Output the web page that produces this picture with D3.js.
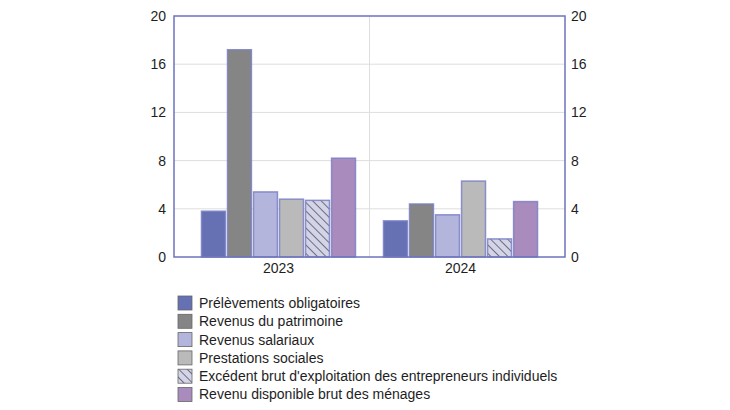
<!DOCTYPE html>
<html>
<style>
    body { margin: 0; background: #fff; }
    svg { font-family: "Liberation Sans", Arial, sans-serif; }
    .tick text { font-size: 14px; fill: #1e1e1e; }
    .legend text { font-size: 14px; fill: #1e1e1e; }
</style>
<script src="https://d3js.org/d3.v7.min.js"></script>
<body>
<svg width="730" height="410"></svg>
<script>
    const years = ["2023", "2024"];
    const series = ["Prélèvements obligatoires", "Revenus du patrimoine", "Revenus salariaux",
        "Prestations sociales", "Excédent brut d'exploitation des entrepreneurs individuels",
        "Revenu disponible brut des ménages"];
    const values2023 = [3.8, 17.2, 5.4, 4.8, 4.7, 8.2];
    const values2024 = [3.0, 4.4, 3.5, 6.3, 1.5, 4.6];
    const yTicks = [0, 4, 8, 12, 16, 20];
    const colors = ["#6571b3", "#858585", "#b3b5dc", "#bababa", "url(#hatch)", "#aa8bbe"];

    const valuesByYear = {"2023": values2023, "2024": values2024};

    const svg = d3.select("svg");
    const plotLeft = 174, plotRight = 565, plotTop = 16, plotBottom = 257;

    // hatch pattern for the EBE series
    const defs = svg.append("defs");
    const pat = defs.append("pattern")
        .attr("id", "hatch")
        .attr("patternUnits", "userSpaceOnUse")
        .attr("width", 6).attr("height", 6)
        .attr("patternTransform", "rotate(-45)");
    pat.append("rect").attr("width", 6).attr("height", 6).attr("fill", "#d3d4ea");
    pat.append("line").attr("x1", 0).attr("y1", 0).attr("x2", 0).attr("y2", 6)
        .attr("stroke", "#555").attr("stroke-width", 1.6);

    const x0 = d3.scaleBand().domain(years).range([plotLeft, plotRight]).paddingOuter(0.074);
    const x1 = d3.scaleBand().domain(series).range([14, x0.bandwidth() - 14]).paddingInner(0.08);
    const y = d3.scaleLinear().domain([0, 20]).range([plotBottom, plotTop]);

    // grid
    svg.append("g").selectAll("line")
        .data(yTicks.slice(1, -1))
        .join("line")
        .attr("x1", plotLeft).attr("x2", plotRight)
        .attr("y1", d => y(d)).attr("y2", d => y(d))
        .attr("stroke", "#dedede");
    svg.append("line")
        .attr("x1", x0("2024")).attr("x2", x0("2024"))
        .attr("y1", plotTop).attr("y2", plotBottom)
        .attr("stroke", "#dedede");

    // bars
    const groups = svg.append("g").selectAll("g")
        .data(years)
        .join("g")
        .attr("transform", d => `translate(${x0(d)},0)`);
    groups.selectAll("rect")
        .data(yr => valuesByYear[yr].map((v, i) => ({name: series[i], value: v, i: i})))
        .join("rect")
        .attr("x", d => x1(d.name))
        .attr("width", x1.bandwidth())
        .attr("y", d => y(d.value))
        .attr("height", d => y(0) - y(d.value))
        .attr("fill", d => colors[d.i])
        .attr("stroke", "#7a80c4")
        .attr("stroke-opacity", 0.85)
        .attr("stroke-width", 1.5);

    // frame
    svg.append("rect")
        .attr("x", plotLeft).attr("y", plotTop)
        .attr("width", plotRight - plotLeft).attr("height", plotBottom - plotTop)
        .attr("fill", "none").attr("stroke", "#6d73bd").attr("stroke-width", 1.5);

    // axes
    const yl = svg.append("g").attr("transform", `translate(${plotLeft},0)`)
        .call(d3.axisLeft(y).tickValues(yTicks).tickSize(0).tickPadding(8));
    const yr = svg.append("g").attr("transform", `translate(${plotRight},0)`)
        .call(d3.axisRight(y).tickValues(yTicks).tickSize(0).tickPadding(6));
    const xa = svg.append("g").attr("transform", `translate(0,${plotBottom})`)
        .call(d3.axisBottom(x0).tickSize(0).tickPadding(6));
    [yl, yr, xa].forEach(a => a.select(".domain").remove());
    svg.selectAll(".tick text").attr("font-family", "Liberation Sans, Arial, sans-serif");

    // legend
    const legend = svg.append("g").attr("class", "legend")
        .attr("transform", "translate(178,296)");
    const item = legend.selectAll("g")
        .data(series)
        .join("g")
        .attr("transform", (d, i) => `translate(0,${i * 18.3})`);
    item.append("rect")
        .attr("width", 14).attr("height", 14)
        .attr("fill", (d, i) => colors[i])
        .attr("stroke", "#666").attr("stroke-width", 0.8);
    item.append("text")
        .attr("x", 21).attr("y", 7).attr("dy", "0.35em")
        .text(d => d);
</script>
</body>
</html>
